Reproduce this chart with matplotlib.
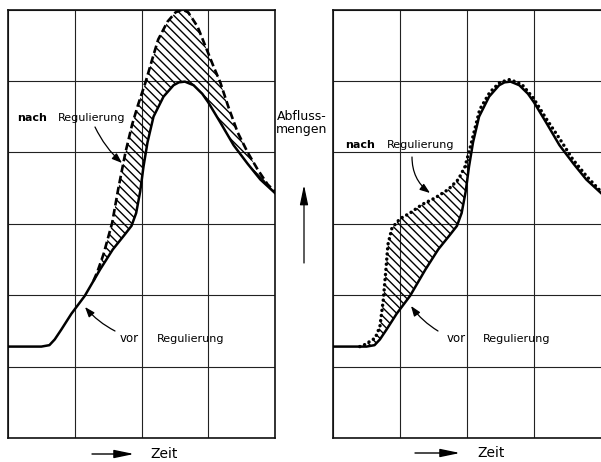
import matplotlib
matplotlib.use("Agg")
import matplotlib.pyplot as plt
import numpy as np

plt.rcParams['font.family'] = ['DejaVu Sans']
plt.rcParams['lines.scale_dashes'] = False
plt.rcParams['hatch.linewidth'] = 1.0

# ---- data (grid units: x 0..4 time, y 0..6 discharge) ----
vor_x = [0, 0.5, 0.62, 0.7, 0.8, 0.95, 1.15, 1.38, 1.57, 1.75, 1.85, 1.92, 1.98, 2.03,
         2.09, 2.18, 2.33, 2.48, 2.56, 2.65, 2.78, 2.91, 3.0, 3.18, 3.38, 3.59, 3.78, 4.0]
vor_y = [1.28, 1.28, 1.30, 1.38, 1.52, 1.74, 1.99, 2.36, 2.64, 2.85, 2.97, 3.15, 3.45, 3.80,
         4.14, 4.50, 4.78, 4.94, 4.98, 4.99, 4.94, 4.82, 4.70, 4.42, 4.10, 3.84, 3.62, 3.43]

nach_left_x = [1.28, 1.34, 1.43, 1.56, 1.65, 1.76, 1.86, 1.95, 2.06, 2.16, 2.25, 2.39,
               2.51, 2.61, 2.70, 2.84, 2.96, 3.08, 3.18, 3.30, 3.44, 3.59, 3.74, 3.89, 4.0]
nach_left_y = [2.20, 2.33, 2.57, 3.01, 3.48, 4.00, 4.39, 4.67, 4.98, 5.30, 5.58, 5.83,
               5.96, 6.00, 5.96, 5.76, 5.48, 5.20, 4.98, 4.64, 4.28, 4.00, 3.76, 3.55, 3.45]

nach_right_x = [0.40, 0.48, 0.63, 0.70, 0.75, 0.79, 0.82, 0.88, 1.0, 1.15, 1.33, 1.52,
                1.72, 1.87, 1.97, 2.04, 2.19, 2.34, 2.49, 2.64, 2.82, 2.99, 3.19, 3.39,
                3.58, 3.79, 4.0]
nach_right_y = [1.28, 1.31, 1.40, 1.56, 1.93, 2.36, 2.71, 2.94, 3.07, 3.15, 3.27, 3.36,
                3.48, 3.62, 3.80, 4.04, 4.60, 4.84, 4.98, 5.02, 4.95, 4.76, 4.46, 4.18,
                3.90, 3.66, 3.45]

label_nach = "nach"
label_reg = "Regulierung"
label_vor = "vor"
label_y1 = "Abfluss-"
label_y2 = "mengen"
label_x = "Zeit"

W, H = 601, 462
fig = plt.figure(figsize=(W / 100, H / 100), dpi=100)
fig.patch.set_facecolor('white')


def P(px, py):
    return (px / W, 1 - py / H)


def make_ax(left_px, right_px, show_right=True):
    top_px, bot_px = 9.5, 438
    ax = fig.add_axes([left_px / W, (H - bot_px) / H,
                       (right_px - left_px) / W, (bot_px - top_px) / H])
    ax.set_xlim(0, 4)
    ax.set_ylim(0, 6)
    ax.set_xticks(range(5) if show_right else range(4))
    ax.set_yticks(range(7))
    ax.grid(True, color='#222222', linewidth=0.8)
    ax.tick_params(length=0, labelbottom=False, labelleft=False)
    for s in ax.spines.values():
        s.set_linewidth(1.2)
        s.set_color('#111111')
    if not show_right:
        ax.spines['right'].set_visible(False)
    ax.set_axisbelow(True)
    return ax


axL = make_ax(8, 275)
axR = make_ax(333, 601, show_right=False)

vx = np.array(vor_x)
vy = np.array(vor_y)

HATCH = '\\\\\\\\'

# left panel hatch polygon: dashed curve forward, solid back
nlx = np.array(nach_left_x)
nly = np.array(nach_left_y)
m = (vx > nlx[0]) & (vx < nlx[-1])
polx = np.concatenate([nlx, vx[m][::-1]])
poly = np.concatenate([nly, vy[m][::-1]])
axL.fill(polx, poly, facecolor='none', edgecolor='black', hatch=HATCH,
         linewidth=0, zorder=2)
axL.plot(vx, vy, color='black', linewidth=1.8, solid_joinstyle='round', zorder=3)
axL.plot(nlx, nly, color='black', linewidth=1.9, dashes=(5.5, 2.6), zorder=3)

# right panel
nrx = np.array(nach_right_x)
nry = np.array(nach_right_y)
k = 16  # dotted points up to where the curves rejoin
m2 = (vx > nrx[1]) & (vx < nrx[k - 1])
polx2 = np.concatenate([nrx[1:k], vx[m2][::-1]])
poly2 = np.concatenate([nry[1:k], vy[m2][::-1]])
axR.fill(polx2, poly2, facecolor='none', edgecolor='black', hatch=HATCH,
         linewidth=0, zorder=2)
axR.plot(vx, vy, color='black', linewidth=1.8, solid_joinstyle='round', zorder=3)
axR.plot(nrx, nry, color='black', linewidth=2.5, dashes=(0.01, 3.7),
         dash_capstyle='round', zorder=4)

# ---- labels ----
fs = 8
def t(px, py, s, weight='normal', size=fs, ha='left'):
    fig.text(px / W, 1 - py / H, s, fontsize=size, fontweight=weight, ha=ha,
             va='baseline', color='black')

t(17, 121, label_nach, weight='bold')
t(58, 121, label_reg)
t(120, 342, label_vor, size=8.5)
t(157, 342, label_reg)
t(345, 148, label_nach, weight='bold')
t(387, 148, label_reg)
t(447, 342, label_vor, size=8.5)
t(483, 342, label_reg)

t(302, 120, label_y1, size=9, ha='center')
t(302, 133, label_y2, size=9, ha='center')

t(150, 458, label_x, size=10)
t(477, 457, label_x, size=10)


def arrow(p0, p1, rad=0.0, lw=0.9, style='-|>,head_length=0.6,head_width=0.22', ms=10):
    fig.add_artist(matplotlib.patches.FancyArrowPatch(
        P(*p0), P(*p1), transform=fig.transFigure, arrowstyle=style,
        connectionstyle=f'arc3,rad={rad}', color='black', linewidth=lw,
        mutation_scale=ms, shrinkA=0, shrinkB=0))

arrow((95, 127), (122, 163), rad=0.1)
arrow((115, 331), (85, 307), rad=-0.1)
arrow((412, 157), (430, 193), rad=0.25)
arrow((438, 331), (411, 306), rad=-0.1)
arrow((304, 263), (304, 185), lw=0.9, style='-|>,head_length=1.2,head_width=0.25')
arrow((92, 454), (134, 454), lw=1.0, style='-|>,head_length=1.2,head_width=0.25')
arrow((415, 453), (460, 453), lw=1.0, style='-|>,head_length=1.2,head_width=0.25')

fig.savefig('out.png', dpi=100, facecolor='white')
